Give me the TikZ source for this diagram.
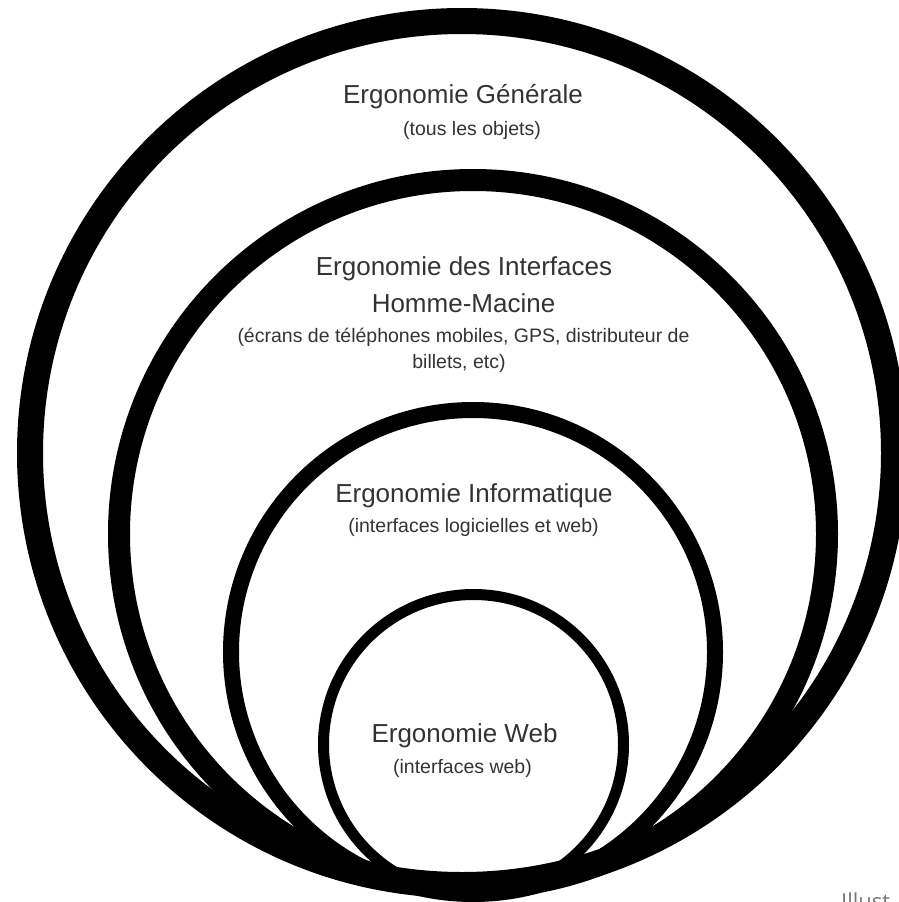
\documentclass[tikz,border=0pt]{standalone}
\usepackage{fontspec}
\setmainfont{Liberation Sans}
\newfontfamily\notefont{Open Sans}
\definecolor{txt}{HTML}{333333}
\definecolor{note}{HTML}{777777}
\begin{document}
\begin{tikzpicture}[x=1pt,y=-1pt,
  ring/.style={draw=black},
  bigtxt/.style={text=txt,font=\fontsize{26}{30}\selectfont,anchor=base,inner sep=0pt},
  smalltxt/.style={text=txt,font=\fontsize{19.5}{23}\selectfont,anchor=base,inner sep=0pt}]
\useasboundingbox (0,0) rectangle (899,902);
% circles
\draw[ring,line width=26pt] (462,453) circle[radius=432pt];
\draw[ring,line width=22pt] (473,534) circle[radius=354pt];
\draw[ring,line width=16pt] (473,652) circle[radius=242pt];
\draw[ring,line width=11pt] (473.5,744.5) circle[radius=150pt];
% texts
\node[bigtxt] (t1) at (463,103) {Ergonomie Générale};
\node[smalltxt] (s1) at (472,135) {(tous les objets)};
\node[bigtxt] (t2a) at (464,275) {Ergonomie des Interfaces};
\node[bigtxt] (t2b) at (463.5,312) {Homme-Macine};
\node[smalltxt] (s2a) at (463.5,342) {(écrans de téléphones mobiles, GPS, distributeur de};
\node[smalltxt] (s2b) at (459,368) {billets, etc)};
\node[bigtxt] (t3) at (474,502) {Ergonomie Informatique};
\node[smalltxt] (s3) at (473.5,532) {(interfaces logicielles et web)};
\node[bigtxt] (t4) at (464.5,742) {Ergonomie Web};
\node[smalltxt] (s4) at (462.5,773) {(interfaces web)};
\node[text=note,font=\notefont\fontsize{22}{26}\selectfont,anchor=north west,inner sep=0pt] (ill) at (841,893) {Illust};
\end{tikzpicture}
\end{document}
